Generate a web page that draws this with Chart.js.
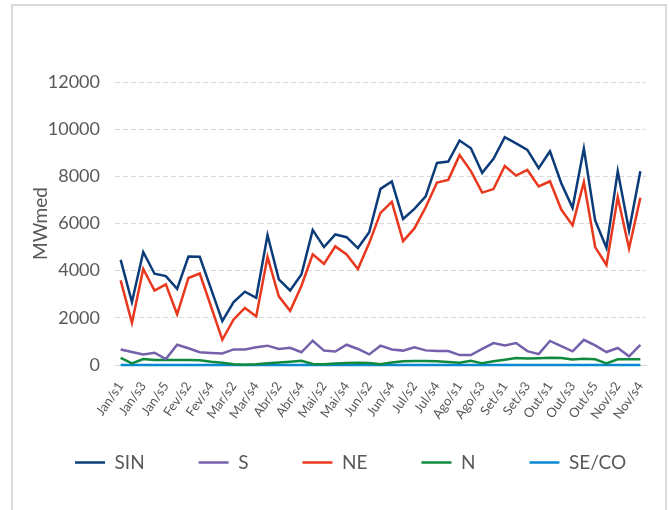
<!DOCTYPE html>
<html>
<head>
<meta charset="utf-8">
<script src="https://cdn.jsdelivr.net/npm/chart.js@4/dist/chart.umd.min.js"></script>
<style>
	body { margin: 0; background: #fff; }
	#wrap { position: relative; width: 669px; height: 510px; overflow: hidden; }
	#frame { position: absolute; left: 11px; top: 4px; width: 652px; height: 520px; border: 2px solid #d9d9d9; }
	canvas { position: absolute; left: 0; top: 0; }
</style>
</head>
<body>
<div id="wrap">
	<div id="frame"></div>
	<canvas id="line-chart" width="669" height="510"></canvas>
</div>
<script>
// Weeks.
var semanas = [
	"Jan/s1","Jan/s2","Jan/s3","Jan/s4","Jan/s5",
	"Fev/s1","Fev/s2","Fev/s3","Fev/s4",
	"Mar/s1","Mar/s2","Mar/s3","Mar/s4",
	"Abr/s1","Abr/s2","Abr/s3","Abr/s4",
	"Mai/s1","Mai/s2","Mai/s3","Mai/s4",
	"Jun/s1","Jun/s2","Jun/s3","Jun/s4",
	"Jul/s1","Jul/s2","Jul/s3","Jul/s4","Jul/s5",
	"Ago/s1","Ago/s2","Ago/s3","Ago/s4",
	"Set/s1","Set/s2","Set/s3","Set/s4",
	"Out/s1","Out/s2","Out/s3","Out/s4","Out/s5",
	"Nov/s1","Nov/s2","Nov/s3","Nov/s4"
];

// MWmed per subsystem.
var sin = [4460,2670,4790,3870,3770,3230,4600,4590,3230,1860,2670,3110,2850,5510,3630,3160,3840,5720,5000,5535,5420,4960,5630,7470,7780,6190,6620,7150,8570,8630,9520,9190,8150,8740,9660,9400,9120,8345,9065,7710,6665,9180,6130,4970,8220,5700,8220];
var s = [660,550,450,520,250,860,710,540,510,490,660,660,750,820,680,730,540,1030,610,570,860,680,450,820,660,610,750,620,590,590,420,420,680,930,830,930,590,460,1020,800,580,1070,830,550,720,370,850];
var ne = [3590,1790,4070,3160,3420,2150,3690,3880,2480,1070,1930,2420,2060,4580,2910,2300,3350,4690,4290,5030,4690,4070,5170,6450,6920,5250,5790,6690,7740,7850,8900,8220,7310,7460,8440,8030,8270,7570,7790,6590,5920,7750,5000,4240,7120,4940,7090];
var n = [300,70,250,210,210,210,210,200,140,100,30,10,30,70,110,140,180,40,30,60,85,100,85,30,110,155,170,170,160,130,100,180,70,155,225,300,280,290,310,300,230,270,240,70,240,240,240];
var seco = [0,0,0,0,0,0,0,0,0,0,0,0,0,0,0,0,0,0,0,0,0,0,0,0,0,0,0,0,0,0,0,0,0,0,0,0,0,0,0,0,0,0,0,0,0,0,0];

var yTicks = [0, 2000, 4000, 6000, 8000, 10000, 12000];

var font = "Lato, 'Open Sans', sans-serif";
var grey = "#595959";
var legendPad = 54;

function serie(label, data, color) {
	return {
		label: label,
		data: data,
		borderColor: color,
		backgroundColor: color,
		borderWidth: 2.5,
		pointRadius: 0,
		tension: 0,
		clip: false
	};
}

// Legend: one wide row starting at x=75, short layout box.
var legendTweak = {
	id: 'legendTweak',
	beforeLayout: function(chart) {
		var lg = chart.legend;
		if (lg && !lg._patched) {
			var fit = lg.fit;
			lg.fit = function() {
				var w = this.maxWidth;
				this.maxWidth = 2000;
				fit.apply(this, arguments);
				this.maxWidth = w;
				this.width = w;
				this.height = 20;
			};
			lg._patched = true;
		}
	},
	afterLayout: function(chart) {
		var lg = chart.legend;
		var total = lg.lineWidths[0];
		lg.right = 1500;
		lg.left = 2 * 75 - legendPad - lg.right + total;
		lg.top -= 46;
		lg.bottom = chart.height;
	}
};

new Chart(document.getElementById("line-chart"), {
	type: 'line',
	data: {
		labels: semanas,
		datasets: [
			serie("SIN", sin, "#0b3b78"),
			serie("S", s, "#7460ab"),
			serie("NE", ne, "#e8381e"),
			serie("N", n, "#108a3e"),
			serie("SE/CO", seco, "#0a89d2")
		]
	},
	options: {
		responsive: false,
		animation: false,
		layout: {
			padding: { left: 20, right: 23, top: 82, bottom: 45 }
		},
		plugins: {
			legend: {
				position: 'bottom',
				labels: {
					usePointStyle: true,
					pointStyle: 'line',
					pointStyleWidth: 30,
					padding: legendPad,
					color: grey,
					font: { family: font, size: 19 }
				}
			},
			tooltip: { enabled: false }
		},
		scales: {
			x: {
				offset: true,
				grid: { display: false, offset: false },
				border: { display: true, color: "#d9d9d9", width: 1 },
				ticks: {
					autoSkip: false,
					minRotation: 55,
					maxRotation: 55,
					padding: 6,
					color: grey,
					font: { family: font, size: 13 },
					callback: function(v, i) {
						return i % 2 === 0 ? semanas[i] : '';
					}
				},
				afterFit: function(scale) { scale.height = 80; }
			},
			y: {
				min: 0,
				max: 12000,
				afterBuildTicks: function(scale) {
					scale.ticks = yTicks.map(function(v) { return { value: v }; });
				},
				grid: { color: "#d9d9d9", lineWidth: 1, drawTicks: false },
				border: { display: false, dash: [5, 3] },
				ticks: {
					padding: 15,
					color: grey,
					font: { family: font, size: 18 },
					callback: function(v) { return v; }
				},
				title: {
					display: true,
					text: "MWmed",
					color: grey,
					padding: { top: 9, bottom: 0 },
					font: { family: font, size: 19 }
				},
				afterFit: function(scale) { scale.width = 95; }
			}
		}
	},
	plugins: [legendTweak]
});
</script>
</body>
</html>
